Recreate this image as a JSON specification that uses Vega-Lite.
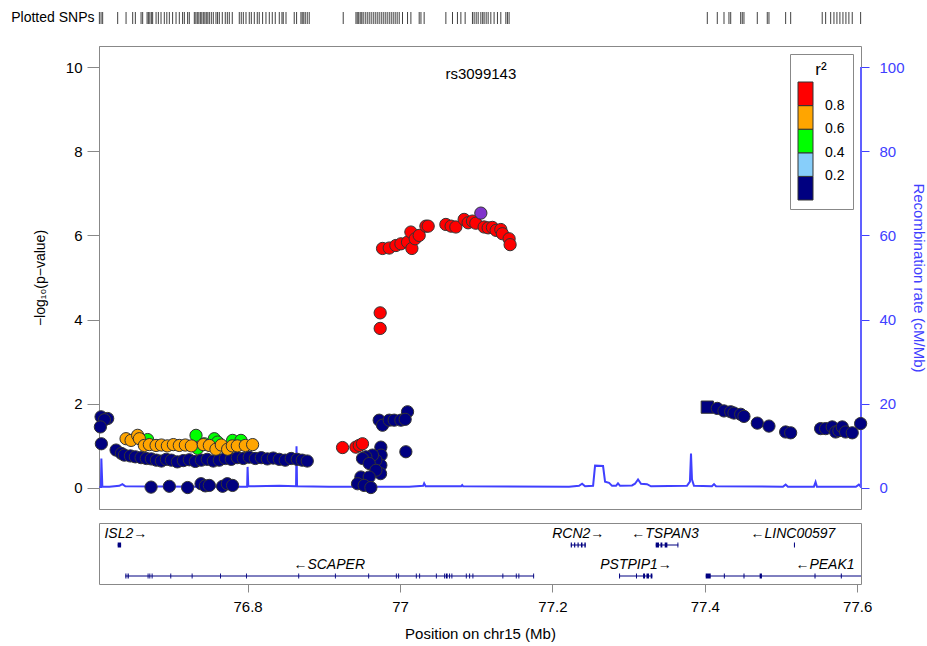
{
  "$schema": "https://vega.github.io/schema/vega-lite/v6.json",
  "padding": {"left": 10, "top": 10, "right": 2, "bottom": 0},
  "background": "white",
  "config": {
    "font": "Liberation Sans",
    "view": {"stroke": null},
    "axis": {"grid": false, "labelFont": "Liberation Sans", "titleFont": "Liberation Sans", "titleFontWeight": "normal", "labelColor": "#000", "titleColor": "#000"},
    "text": {"font": "Liberation Sans"}
  },
  "datasets": {
    "rug": [
      {"pos":76.6055},{"pos":76.6077},{"pos":76.6098},{"pos":76.6295},{"pos":76.6405},{"pos":76.6492},{"pos":76.6527},{"pos":76.6602},{"pos":76.6623},{"pos":76.6681},{"pos":76.6698},{"pos":76.6717},{"pos":76.6737},{"pos":76.6754},{"pos":76.6799},{"pos":76.6829},{"pos":76.6864},{"pos":76.6907},{"pos":76.6940},{"pos":76.6973},{"pos":76.7016},{"pos":76.7061},{"pos":76.7104},{"pos":76.7147},{"pos":76.7170},{"pos":76.7213},{"pos":76.7235},{"pos":76.7301},{"pos":76.7321},{"pos":76.7340},{"pos":76.7360},{"pos":76.7380},{"pos":76.7399},{"pos":76.7419},{"pos":76.7439},{"pos":76.7458},{"pos":76.7478},{"pos":76.7498},{"pos":76.7524},{"pos":76.7550},{"pos":76.7585},{"pos":76.7606},{"pos":76.7629},{"pos":76.7668},{"pos":76.7707},{"pos":76.7734},{"pos":76.7760},{"pos":76.7799},{"pos":76.7891},{"pos":76.7917},{"pos":76.7944},{"pos":76.7979},{"pos":76.8022},{"pos":76.8049},{"pos":76.8088},{"pos":76.8127},{"pos":76.8153},{"pos":76.8197},{"pos":76.8241},{"pos":76.8285},{"pos":76.8324},{"pos":76.8363},{"pos":76.8416},{"pos":76.8451},{"pos":76.8468},{"pos":76.8504},{"pos":76.8612},{"pos":76.8643},{"pos":76.8700},{"pos":76.8717},{"pos":76.8737},{"pos":76.8757},{"pos":76.8783},{"pos":76.8809},{"pos":76.9255},{"pos":76.9422},{"pos":76.9439},{"pos":76.9458},{"pos":76.9478},{"pos":76.9498},{"pos":76.9517},{"pos":76.9544},{"pos":76.9570},{"pos":76.9596},{"pos":76.9622},{"pos":76.9649},{"pos":76.9675},{"pos":76.9701},{"pos":76.9727},{"pos":76.9754},{"pos":76.9780},{"pos":76.9806},{"pos":76.9832},{"pos":76.9859},{"pos":76.9885},{"pos":76.9911},{"pos":76.9937},{"pos":76.9963},{"pos":76.9990},{"pos":77.0033},{"pos":77.0099},{"pos":77.0143},{"pos":77.0252},{"pos":77.0275},{"pos":77.0317},{"pos":77.0602},{"pos":77.0689},{"pos":77.0754},{"pos":77.0799},{"pos":77.0855},{"pos":77.0951},{"pos":77.0973},{"pos":77.1000},{"pos":77.1026},{"pos":77.1061},{"pos":77.1085},{"pos":77.1104},{"pos":77.1131},{"pos":77.1157},{"pos":77.1192},{"pos":77.1235},{"pos":77.1279},{"pos":77.1323},{"pos":77.1389},{"pos":77.1410},{"pos":77.1432},{"pos":77.4033},{"pos":77.4164},{"pos":77.4252},{"pos":77.4317},{"pos":77.4340},{"pos":77.4471},{"pos":77.4492},{"pos":77.4514},{"pos":77.4689},{"pos":77.4820},{"pos":77.4842},{"pos":77.5061},{"pos":77.5127},{"pos":77.5541},{"pos":77.5586},{"pos":77.5652},{"pos":77.5695},{"pos":77.5734},{"pos":77.5773},{"pos":77.5813},{"pos":77.5852},{"pos":77.5891},{"pos":77.5935},{"pos":77.6045}
    ],
    "recomb": [
      {"pos":76.6055,"rate":0.2},{"pos":76.6075,"rate":0.2},{"pos":76.6081,"rate":7.0},{"pos":76.6094,"rate":0.3},{"pos":76.6186,"rate":0.3},{"pos":76.6317,"rate":0.5},{"pos":76.6357,"rate":0.9},{"pos":76.6396,"rate":0.4},{"pos":76.7367,"rate":0.3},{"pos":76.7994,"rate":0.3},{"pos":76.8000,"rate":5.0},{"pos":76.8009,"rate":0.4},{"pos":76.8416,"rate":0.5},{"pos":76.8636,"rate":0.4},{"pos":76.8642,"rate":9.9},{"pos":76.8649,"rate":0.4},{"pos":76.9071,"rate":0.3},{"pos":77.0120,"rate":0.3},{"pos":77.0304,"rate":0.5},{"pos":77.0317,"rate":1.1},{"pos":77.0337,"rate":0.4},{"pos":77.0802,"rate":0.4},{"pos":77.0816,"rate":0.7},{"pos":77.0829,"rate":0.4},{"pos":77.2219,"rate":0.3},{"pos":77.2350,"rate":0.5},{"pos":77.2390,"rate":1.0},{"pos":77.2429,"rate":0.4},{"pos":77.2534,"rate":0.5},{"pos":77.2560,"rate":5.3},{"pos":77.2665,"rate":5.2},{"pos":77.2691,"rate":1.5},{"pos":77.2744,"rate":1.2},{"pos":77.2783,"rate":0.5},{"pos":77.2835,"rate":0.5},{"pos":77.2861,"rate":1.1},{"pos":77.2888,"rate":0.5},{"pos":77.3045,"rate":0.6},{"pos":77.3084,"rate":1.0},{"pos":77.3124,"rate":2.0},{"pos":77.3163,"rate":1.0},{"pos":77.3242,"rate":0.9},{"pos":77.3294,"rate":0.4},{"pos":77.3766,"rate":0.5},{"pos":77.3805,"rate":1.5},{"pos":77.3819,"rate":8.2},{"pos":77.3832,"rate":2.0},{"pos":77.3858,"rate":0.5},{"pos":77.4094,"rate":0.4},{"pos":77.4121,"rate":0.9},{"pos":77.4147,"rate":0.4},{"pos":77.5025,"rate":0.3},{"pos":77.5061,"rate":0.8},{"pos":77.5091,"rate":0.3},{"pos":77.5432,"rate":0.3},{"pos":77.5454,"rate":1.4},{"pos":77.5472,"rate":0.3},{"pos":77.5983,"rate":0.3},{"pos":77.6022,"rate":0.8},{"pos":77.6049,"rate":0.3}
    ],
    "snps": [
      {"pos":76.6077,"logp":1.69,"r2":0.1,"variant":"snp"},{"pos":76.6164,"logp":1.65,"r2":0.1,"variant":"snp"},{"pos":76.6121,"logp":1.62,"r2":0.1,"variant":"snp"},{"pos":76.6068,"logp":1.45,"r2":0.1,"variant":"snp"},{"pos":76.6081,"logp":1.05,"r2":0.1,"variant":"snp"},
      {"pos":76.6274,"logp":0.90,"r2":0.1,"variant":"snp"},{"pos":76.6344,"logp":0.82,"r2":0.1,"variant":"snp"},{"pos":76.6383,"logp":0.78,"r2":0.1,"variant":"snp"},{"pos":76.6462,"logp":0.76,"r2":0.1,"variant":"snp"},{"pos":76.6527,"logp":0.74,"r2":0.1,"variant":"snp"},{"pos":76.6602,"logp":0.72,"r2":0.1,"variant":"snp"},{"pos":76.6671,"logp":0.70,"r2":0.1,"variant":"snp"},{"pos":76.6737,"logp":0.69,"r2":0.1,"variant":"snp"},{"pos":76.6803,"logp":0.66,"r2":0.1,"variant":"snp"},{"pos":76.6869,"logp":0.64,"r2":0.1,"variant":"snp"},{"pos":76.6934,"logp":0.68,"r2":0.1,"variant":"snp"},{"pos":76.7000,"logp":0.66,"r2":0.1,"variant":"snp"},{"pos":76.7078,"logp":0.62,"r2":0.1,"variant":"snp"},{"pos":76.7157,"logp":0.65,"r2":0.1,"variant":"snp"},{"pos":76.7235,"logp":0.67,"r2":0.1,"variant":"snp"},{"pos":76.7314,"logp":0.63,"r2":0.1,"variant":"snp"},{"pos":76.7393,"logp":0.66,"r2":0.1,"variant":"snp"},{"pos":76.7471,"logp":0.68,"r2":0.1,"variant":"snp"},{"pos":76.7550,"logp":0.64,"r2":0.1,"variant":"snp"},{"pos":76.7629,"logp":0.66,"r2":0.1,"variant":"snp"},{"pos":76.7708,"logp":0.70,"r2":0.1,"variant":"snp"},{"pos":76.7786,"logp":0.68,"r2":0.1,"variant":"snp"},{"pos":76.7865,"logp":0.72,"r2":0.1,"variant":"snp"},{"pos":76.7944,"logp":0.70,"r2":0.1,"variant":"snp"},{"pos":76.8022,"logp":0.73,"r2":0.1,"variant":"snp"},{"pos":76.8101,"logp":0.70,"r2":0.1,"variant":"snp"},{"pos":76.8180,"logp":0.72,"r2":0.1,"variant":"snp"},{"pos":76.8259,"logp":0.69,"r2":0.1,"variant":"snp"},{"pos":76.8337,"logp":0.71,"r2":0.1,"variant":"snp"},{"pos":76.8416,"logp":0.68,"r2":0.1,"variant":"snp"},{"pos":76.8494,"logp":0.66,"r2":0.1,"variant":"snp"},{"pos":76.8573,"logp":0.70,"r2":0.1,"variant":"snp"},{"pos":76.8652,"logp":0.68,"r2":0.1,"variant":"snp"},{"pos":76.8717,"logp":0.66,"r2":0.1,"variant":"snp"},{"pos":76.8783,"logp":0.64,"r2":0.1,"variant":"snp"},
      {"pos":76.6733,"logp":0.02,"r2":0.1,"variant":"snp"},{"pos":76.6973,"logp":0.04,"r2":0.1,"variant":"snp"},{"pos":76.7213,"logp":0.01,"r2":0.1,"variant":"snp"},{"pos":76.7389,"logp":0.10,"r2":0.1,"variant":"snp"},{"pos":76.7445,"logp":0.05,"r2":0.1,"variant":"snp"},{"pos":76.7498,"logp":0.06,"r2":0.1,"variant":"snp"},{"pos":76.7672,"logp":0.04,"r2":0.1,"variant":"snp"},{"pos":76.7734,"logp":0.10,"r2":0.1,"variant":"snp"},{"pos":76.7803,"logp":0.06,"r2":0.1,"variant":"snp"},
      {"pos":76.9727,"logp":1.61,"r2":0.1,"variant":"snp"},{"pos":76.9771,"logp":1.49,"r2":0.1,"variant":"snp"},{"pos":76.9859,"logp":1.61,"r2":0.1,"variant":"snp"},{"pos":76.9924,"logp":1.61,"r2":0.1,"variant":"snp"},{"pos":77.0012,"logp":1.61,"r2":0.1,"variant":"snp"},{"pos":77.0099,"logp":1.81,"r2":0.1,"variant":"snp"},{"pos":77.0068,"logp":1.63,"r2":0.1,"variant":"snp"},{"pos":76.9749,"logp":0.97,"r2":0.1,"variant":"snp"},{"pos":76.9752,"logp":0.78,"r2":0.1,"variant":"snp"},{"pos":76.9749,"logp":0.54,"r2":0.1,"variant":"snp"},{"pos":76.9745,"logp":0.34,"r2":0.1,"variant":"snp"},{"pos":76.9684,"logp":0.66,"r2":0.1,"variant":"snp"},{"pos":76.9639,"logp":0.78,"r2":0.1,"variant":"snp"},{"pos":76.9552,"logp":0.74,"r2":0.1,"variant":"snp"},{"pos":76.9508,"logp":0.70,"r2":0.1,"variant":"snp"},{"pos":76.9596,"logp":0.58,"r2":0.1,"variant":"snp"},{"pos":76.9684,"logp":0.42,"r2":0.1,"variant":"snp"},{"pos":76.9487,"logp":0.26,"r2":0.1,"variant":"snp"},{"pos":76.9596,"logp":0.26,"r2":0.1,"variant":"snp"},{"pos":76.9443,"logp":0.10,"r2":0.1,"variant":"snp"},{"pos":76.9530,"logp":0.06,"r2":0.1,"variant":"snp"},{"pos":76.9618,"logp":0.01,"r2":0.1,"variant":"snp"},{"pos":77.0077,"logp":0.86,"r2":0.1,"variant":"snp"},
      {"pos":77.4033,"logp":1.92,"r2":0.1,"variant":"other"},{"pos":77.4164,"logp":1.89,"r2":0.1,"variant":"snp"},{"pos":77.4252,"logp":1.83,"r2":0.1,"variant":"snp"},{"pos":77.4340,"logp":1.81,"r2":0.1,"variant":"snp"},{"pos":77.4383,"logp":1.78,"r2":0.1,"variant":"snp"},{"pos":77.4471,"logp":1.75,"r2":0.1,"variant":"snp"},{"pos":77.4514,"logp":1.70,"r2":0.1,"variant":"snp"},{"pos":77.4689,"logp":1.54,"r2":0.1,"variant":"snp"},{"pos":77.4842,"logp":1.47,"r2":0.1,"variant":"snp"},{"pos":77.5061,"logp":1.33,"r2":0.1,"variant":"snp"},{"pos":77.5127,"logp":1.31,"r2":0.1,"variant":"snp"},{"pos":77.5520,"logp":1.41,"r2":0.1,"variant":"snp"},{"pos":77.5586,"logp":1.41,"r2":0.1,"variant":"snp"},{"pos":77.5672,"logp":1.45,"r2":0.1,"variant":"snp"},{"pos":77.5717,"logp":1.33,"r2":0.1,"variant":"snp"},{"pos":77.5760,"logp":1.36,"r2":0.1,"variant":"snp"},{"pos":77.5804,"logp":1.45,"r2":0.1,"variant":"snp"},{"pos":77.5848,"logp":1.33,"r2":0.1,"variant":"snp"},{"pos":77.5935,"logp":1.31,"r2":0.1,"variant":"snp"},{"pos":77.6045,"logp":1.53,"r2":0.1,"variant":"snp"},
      {"pos":76.6688,"logp":1.15,"r2":0.5,"variant":"snp"},{"pos":76.7323,"logp":1.25,"r2":0.5,"variant":"snp"},{"pos":76.7344,"logp":0.94,"r2":0.5,"variant":"snp"},{"pos":76.7432,"logp":1.05,"r2":0.5,"variant":"snp"},{"pos":76.7563,"logp":1.17,"r2":0.5,"variant":"snp"},{"pos":76.7607,"logp":1.09,"r2":0.5,"variant":"snp"},{"pos":76.7803,"logp":1.13,"r2":0.5,"variant":"snp"},{"pos":76.7913,"logp":1.13,"r2":0.5,"variant":"snp"},
      {"pos":76.6405,"logp":1.17,"r2":0.7,"variant":"snp"},{"pos":76.6471,"logp":1.13,"r2":0.7,"variant":"snp"},{"pos":76.6557,"logp":1.25,"r2":0.7,"variant":"snp"},{"pos":76.6580,"logp":1.17,"r2":0.7,"variant":"snp"},{"pos":76.6645,"logp":1.01,"r2":0.7,"variant":"snp"},{"pos":76.6711,"logp":1.03,"r2":0.7,"variant":"snp"},{"pos":76.6799,"logp":1.01,"r2":0.7,"variant":"snp"},{"pos":76.6869,"logp":1.02,"r2":0.7,"variant":"snp"},{"pos":76.6947,"logp":1.00,"r2":0.7,"variant":"snp"},{"pos":76.7026,"logp":1.03,"r2":0.7,"variant":"snp"},{"pos":76.7104,"logp":1.01,"r2":0.7,"variant":"snp"},{"pos":76.7183,"logp":1.02,"r2":0.7,"variant":"snp"},{"pos":76.7262,"logp":1.00,"r2":0.7,"variant":"snp"},{"pos":76.7419,"logp":1.03,"r2":0.7,"variant":"snp"},{"pos":76.7498,"logp":1.01,"r2":0.7,"variant":"snp"},{"pos":76.7585,"logp":0.92,"r2":0.7,"variant":"snp"},{"pos":76.7655,"logp":1.02,"r2":0.7,"variant":"snp"},{"pos":76.7738,"logp":0.92,"r2":0.7,"variant":"snp"},{"pos":76.7799,"logp":1.00,"r2":0.7,"variant":"snp"},{"pos":76.7865,"logp":1.00,"r2":0.7,"variant":"snp"},{"pos":76.7970,"logp":1.01,"r2":0.7,"variant":"snp"},{"pos":76.8066,"logp":1.03,"r2":0.7,"variant":"snp"},
      {"pos":76.9246,"logp":0.96,"r2":0.9,"variant":"snp"},{"pos":76.9421,"logp":0.97,"r2":0.9,"variant":"snp"},{"pos":76.9465,"logp":1.01,"r2":0.9,"variant":"snp"},{"pos":76.9508,"logp":1.05,"r2":0.9,"variant":"snp"},{"pos":76.9740,"logp":4.16,"r2":0.9,"variant":"snp"},{"pos":76.9740,"logp":3.79,"r2":0.9,"variant":"snp"},{"pos":76.9771,"logp":5.69,"r2":0.9,"variant":"snp"},{"pos":76.9859,"logp":5.70,"r2":0.9,"variant":"snp"},{"pos":76.9946,"logp":5.76,"r2":0.9,"variant":"snp"},{"pos":77.0012,"logp":5.80,"r2":0.9,"variant":"snp"},{"pos":77.0099,"logp":5.84,"r2":0.9,"variant":"snp"},{"pos":77.0156,"logp":5.69,"r2":0.9,"variant":"snp"},{"pos":77.0143,"logp":6.08,"r2":0.9,"variant":"snp"},{"pos":77.0199,"logp":5.92,"r2":0.9,"variant":"snp"},{"pos":77.0252,"logp":6.00,"r2":0.9,"variant":"snp"},{"pos":77.0340,"logp":6.22,"r2":0.9,"variant":"snp"},{"pos":77.0370,"logp":6.22,"r2":0.9,"variant":"snp"},{"pos":77.0602,"logp":6.26,"r2":0.9,"variant":"snp"},{"pos":77.0671,"logp":6.22,"r2":0.9,"variant":"snp"},{"pos":77.0733,"logp":6.20,"r2":0.9,"variant":"snp"},{"pos":77.0842,"logp":6.38,"r2":0.9,"variant":"snp"},{"pos":77.0894,"logp":6.30,"r2":0.9,"variant":"snp"},{"pos":77.0951,"logp":6.34,"r2":0.9,"variant":"snp"},{"pos":77.0995,"logp":6.29,"r2":0.9,"variant":"snp"},{"pos":77.1104,"logp":6.20,"r2":0.9,"variant":"snp"},{"pos":77.1157,"logp":6.18,"r2":0.9,"variant":"snp"},{"pos":77.1213,"logp":6.19,"r2":0.9,"variant":"snp"},{"pos":77.1262,"logp":6.12,"r2":0.9,"variant":"snp"},{"pos":77.1323,"logp":6.14,"r2":0.9,"variant":"snp"},{"pos":77.1344,"logp":6.04,"r2":0.9,"variant":"snp"},{"pos":77.1432,"logp":5.92,"r2":0.9,"variant":"snp"},{"pos":77.1445,"logp":5.78,"r2":0.9,"variant":"snp"},
      {"pos":77.1061,"logp":6.53,"r2":1.0,"variant":"snp","lead":true,"snp":"rs3099143"}
    ],
    "genes": [
      {"gene":"ISL2","label":"ISL2→","start":76.6295,"end":76.6340,"track":1,"labelAt":76.6402},
      {"gene":"SCAPER","label":"←SCAPER","start":76.6396,"end":77.1760,"track":0,"labelAt":76.9071},
      {"gene":"RCN2","label":"RCN2→","start":77.2241,"end":77.2438,"track":1,"labelAt":77.2340},
      {"gene":"TSPAN3","label":"←TSPAN3","start":77.3356,"end":77.3653,"track":1,"labelAt":77.3478},
      {"gene":"LINC00597","label":"←LINC00597","start":77.5170,"end":77.5183,"track":1,"labelAt":77.5157},
      {"gene":"PSTPIP1","label":"PSTPIP1→","start":77.2875,"end":77.3312,"track":0,"labelAt":77.3098},
      {"gene":"PEAK1","label":"←PEAK1","start":77.4012,"end":77.6500,"track":0,"labelAt":77.5577}
    ],
    "exons": [
      {"gene":"ISL2","start":76.6295,"end":76.6340,"track":1},
      {"gene":"SCAPER","start":76.6396,"end":76.6406,"track":0},{"gene":"SCAPER","start":76.6413,"end":76.6423,"track":0},{"gene":"SCAPER","start":76.6431,"end":76.6441,"track":0},{"gene":"SCAPER","start":76.6688,"end":76.6700,"track":0},{"gene":"SCAPER","start":76.6711,"end":76.6723,"track":0},{"gene":"SCAPER","start":76.6741,"end":76.6753,"track":0},{"gene":"SCAPER","start":76.6986,"end":76.6998,"track":0},{"gene":"SCAPER","start":76.7266,"end":76.7278,"track":0},{"gene":"SCAPER","start":76.7638,"end":76.7650,"track":0},{"gene":"SCAPER","start":76.7979,"end":76.7991,"track":0},{"gene":"SCAPER","start":76.8665,"end":76.8677,"track":0},{"gene":"SCAPER","start":76.9146,"end":76.9158,"track":0},{"gene":"SCAPER","start":76.9583,"end":76.9595,"track":0},{"gene":"SCAPER","start":76.9946,"end":76.9958,"track":0},{"gene":"SCAPER","start":76.9976,"end":76.9988,"track":0},{"gene":"SCAPER","start":77.0208,"end":77.0220,"track":0},{"gene":"SCAPER","start":77.0252,"end":77.0264,"track":0},{"gene":"SCAPER","start":77.0471,"end":77.0483,"track":0},{"gene":"SCAPER","start":77.0580,"end":77.0592,"track":0},{"gene":"SCAPER","start":77.0602,"end":77.0625,"track":0},{"gene":"SCAPER","start":77.0645,"end":77.0657,"track":0},{"gene":"SCAPER","start":77.0675,"end":77.0687,"track":0},{"gene":"SCAPER","start":77.0864,"end":77.0876,"track":0},{"gene":"SCAPER","start":77.0908,"end":77.0920,"track":0},{"gene":"SCAPER","start":77.0951,"end":77.0963,"track":0},{"gene":"SCAPER","start":77.1344,"end":77.1356,"track":0},{"gene":"SCAPER","start":77.1520,"end":77.1532,"track":0},{"gene":"SCAPER","start":77.1554,"end":77.1566,"track":0},{"gene":"SCAPER","start":77.1748,"end":77.1760,"track":0},
      {"gene":"RCN2","start":77.2241,"end":77.2256,"track":1},{"gene":"RCN2","start":77.2285,"end":77.2300,"track":1},{"gene":"RCN2","start":77.2330,"end":77.2345,"track":1},{"gene":"RCN2","start":77.2375,"end":77.2395,"track":1},{"gene":"RCN2","start":77.2420,"end":77.2438,"track":1},
      {"gene":"TSPAN3","start":77.3356,"end":77.3399,"track":1},{"gene":"TSPAN3","start":77.3419,"end":77.3443,"track":1},{"gene":"TSPAN3","start":77.3474,"end":77.3509,"track":1},{"gene":"TSPAN3","start":77.3641,"end":77.3653,"track":1},
      {"gene":"LINC00597","start":77.5170,"end":77.5183,"track":1},
      {"gene":"PSTPIP1","start":77.2875,"end":77.2888,"track":0},{"gene":"PSTPIP1","start":77.3097,"end":77.3110,"track":0},{"gene":"PSTPIP1","start":77.3190,"end":77.3216,"track":0},{"gene":"PSTPIP1","start":77.3235,"end":77.3268,"track":0},{"gene":"PSTPIP1","start":77.3290,"end":77.3312,"track":0},
      {"gene":"PEAK1","start":77.4012,"end":77.4078,"track":0},{"gene":"PEAK1","start":77.4250,"end":77.4263,"track":0},{"gene":"PEAK1","start":77.4508,"end":77.4521,"track":0},{"gene":"PEAK1","start":77.4720,"end":77.4750,"track":0},{"gene":"PEAK1","start":77.5440,"end":77.5453,"track":0},{"gene":"PEAK1","start":77.5785,"end":77.5798,"track":0}
    ]
  },
  "spacing": 12,
  "resolve": {"scale": {"x": "independent", "y": "independent", "color": "independent"}, "legend": {"color": "independent"}},
  "vconcat": [
    {
      "width": 762,
      "height": 21,
      "data": {"name": "rug"},
      "mark": {"type": "tick", "color": "#000", "thickness": 1, "size": 12, "opacity": 0.75, "orient": "vertical"},
      "encoding": {
        "x": {"field": "pos", "type": "quantitative", "scale": {"domain": [76.605, 77.605], "nice": false, "zero": false}, "axis": null},
        "y": {"datum": "Plotted SNPs", "type": "nominal", "scale": {"paddingInner": 0, "paddingOuter": 0.375, "align": 0},
              "axis": {"title": null, "ticks": false, "domain": false, "labelFontSize": 14, "labelPadding": 5, "labelColor": "#000"}}
      }
    },
    {
      "width": 762,
      "height": 463,
      "view": {"stroke": "#888", "strokeWidth": 1},
      "layer": [
        {
          "data": {"name": "recomb"},
          "layer": [
            {
              "mark": {"type": "line", "color": "#4040ff", "strokeWidth": 2, "clip": true},
              "encoding": {
                "x": {"field": "pos", "type": "quantitative", "scale": {"domain": [76.605, 77.605], "nice": false, "zero": false}, "axis": null},
                "y": {"field": "rate", "type": "quantitative", "scale": {"domain": [-5, 105], "nice": false, "zero": false},
                      "axis": {"orient": "right", "values": [0, 20, 40, 60, 80, 100], "title": "Recombination rate (cM/Mb)", "domain": false, "tickColor": "#4040ff", "labelColor": "#4040ff", "titleColor": "#4040ff", "tickSize": 8, "labelPadding": 10, "labelFontSize": 15, "titleFontSize": 15, "titlePadding": 6}}
              }
            },
            {
              "mark": {"type": "rule", "color": "#6060ff", "strokeWidth": 1},
              "encoding": {
                "x": {"datum": 77.605, "type": "quantitative"},
                "y": {"datum": 0, "type": "quantitative"},
                "y2": {"datum": 100}
              }
            }
          ]
        },
        {
          "data": {"name": "snps"},
          "layer": [
            {
              "transform": [{"filter": "!datum.lead"}],
              "mark": {"type": "point", "filled": true, "size": 150, "stroke": "#333", "strokeWidth": 1, "opacity": 1},
              "encoding": {
                "x": {"field": "pos", "type": "quantitative", "scale": {"domain": [76.605, 77.605], "nice": false, "zero": false}, "axis": null},
                "y": {"field": "logp", "type": "quantitative", "scale": {"domain": [-0.5, 10.5], "nice": false, "zero": false},
                      "axis": {"orient": "left", "values": [0, 2, 4, 6, 8, 10], "title": "−log₁₀(p−value)", "domainColor": "#888", "tickColor": "#888", "tickSize": 12, "labelPadding": 5, "labelFontSize": 15, "titleFontSize": 14, "titlePadding": 18}},
                "color": {"field": "r2", "type": "quantitative",
                          "scale": {"type": "threshold", "domain": [0.2, 0.4, 0.6, 0.8], "range": ["#000080", "#87CEFA", "#00FF00", "#FFA500", "#FF0000"]},
                          "legend": {"type": "gradient", "title": "r²", "orient": "top-right", "offset": 8, "direction": "vertical", "gradientLength": 118, "gradientThickness": 15, "gradientStrokeColor": "#333", "gradientStrokeWidth": 1, "labelFontSize": 14, "labelOffset": 12, "labelColor": "#000", "titleFontSize": 17, "titleFontWeight": "normal", "titleAnchor": "middle", "titlePadding": 3, "strokeColor": "#888", "fillColor": "white", "padding": 8, "format": ".1f"}},
                "shape": {"field": "variant", "type": "nominal", "scale": {"domain": ["snp", "other"], "range": ["circle", "square"]}, "legend": null}
              }
            },
            {
              "transform": [{"filter": "datum.lead"}],
              "mark": {"type": "point", "filled": true, "size": 150, "color": "#8033cc", "stroke": "#333", "strokeWidth": 1, "opacity": 1},
              "encoding": {
                "x": {"field": "pos", "type": "quantitative"},
                "y": {"field": "logp", "type": "quantitative"}
              }
            },
            {
              "transform": [{"filter": "datum.lead"}],
              "mark": {"type": "text", "fontSize": 15, "color": "#000", "baseline": "middle", "align": "center"},
              "encoding": {
                "x": {"field": "pos", "type": "quantitative"},
                "y": {"datum": 9.83, "type": "quantitative"},
                "text": {"field": "snp"}
              }
            }
          ]
        }
      ],
      "resolve": {"scale": {"y": "independent"}}
    },
    {
      "width": 762,
      "height": 61,
      "view": {"stroke": "#888", "strokeWidth": 1},
      "layer": [
        {
          "data": {"name": "genes"},
          "mark": {"type": "rule", "color": "#000080", "strokeWidth": 1, "clip": true},
          "encoding": {
            "x": {"field": "start", "type": "quantitative", "scale": {"domain": [76.605, 77.605], "nice": false, "zero": false},
                  "axis": {"orient": "bottom", "values": [76.8, 77, 77.2, 77.4, 77.6], "format": "~g", "title": "Position on chr15 (Mb)", "domain": false, "tickColor": "#888", "tickSize": 8, "labelFontSize": 15, "labelPadding": 7, "labelFlush": false, "titleFontSize": 15, "titlePadding": 12}},
            "x2": {"field": "end"},
            "y": {"field": "track", "type": "quantitative", "scale": {"domain": [-0.258, 1.71], "nice": false, "zero": false}, "axis": null}
          }
        },
        {
          "data": {"name": "exons"},
          "mark": {"type": "rule", "color": "#000080", "strokeWidth": 5, "strokeCap": "butt", "clip": true},
          "encoding": {
            "x": {"field": "start", "type": "quantitative"},
            "x2": {"field": "end"},
            "y": {"field": "track", "type": "quantitative"}
          }
        },
        {
          "data": {"name": "genes"},
          "mark": {"type": "text", "fontSize": 14, "fontStyle": "italic", "dy": -11, "baseline": "middle", "align": "center", "color": "#000"},
          "encoding": {
            "x": {"field": "labelAt", "type": "quantitative"},
            "y": {"field": "track", "type": "quantitative"},
            "text": {"field": "label"}
          }
        }
      ]
    }
  ]
}
